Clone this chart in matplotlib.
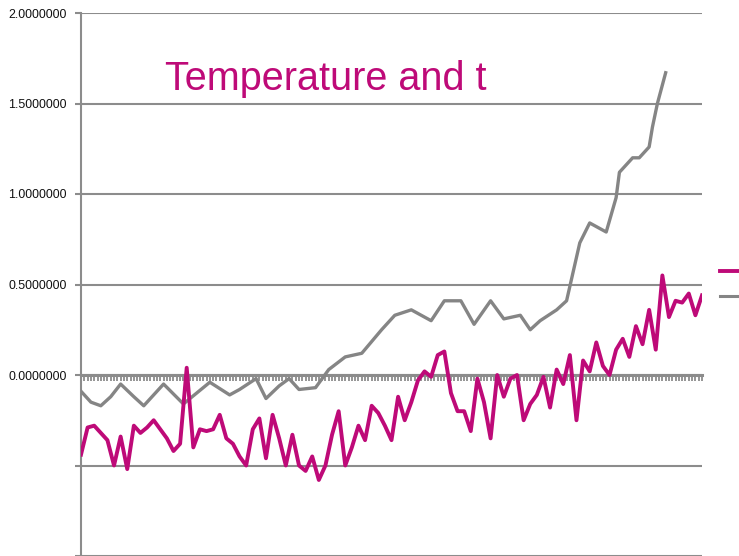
import matplotlib
matplotlib.use("Agg")
import matplotlib.pyplot as plt
from matplotlib.ticker import MultipleLocator, FuncFormatter
from matplotlib.lines import Line2D
from matplotlib.transforms import Bbox

# ---- data ----
temp_years = [1836, 1838, 1840, 1842, 1844, 1846, 1848, 1850, 1852, 1854, 1856, 1858,
              1860, 1862, 1864, 1866, 1868, 1870, 1872, 1874, 1876, 1878, 1880, 1882,
              1884, 1886, 1888, 1890, 1892, 1894, 1896, 1898, 1900, 1902, 1904, 1906,
              1908, 1910, 1912, 1914, 1916, 1918, 1920, 1922, 1924, 1926, 1928, 1930,
              1932, 1934, 1936, 1938, 1940, 1942, 1944, 1946, 1948, 1950, 1952, 1954,
              1956, 1958, 1960, 1962, 1964, 1966, 1968, 1970, 1972, 1974, 1976, 1978,
              1980, 1982, 1984, 1986, 1988, 1990, 1992, 1994, 1996, 1998, 2000, 2002,
              2004, 2006, 2008, 2010, 2012, 2014, 2016, 2018, 2020, 2022, 2024]
temp_values = [-0.44, -0.29, -0.28, -0.32, -0.36, -0.50, -0.34, -0.52, -0.28, -0.32, -0.29, -0.25,
               -0.30, -0.35, -0.42, -0.38, 0.04, -0.40, -0.30, -0.31, -0.30, -0.22, -0.35, -0.38,
               -0.45, -0.50, -0.30, -0.24, -0.46, -0.22, -0.35, -0.50, -0.33, -0.50, -0.53, -0.45,
               -0.58, -0.50, -0.33, -0.20, -0.50, -0.40, -0.28, -0.36, -0.17, -0.21, -0.28, -0.36,
               -0.12, -0.25, -0.15, -0.03, 0.02, -0.01, 0.11, 0.13, -0.10, -0.20, -0.20, -0.31,
               -0.02, -0.15, -0.35, 0.00, -0.12, -0.02, 0.00, -0.25, -0.16, -0.11, -0.01, -0.18,
               0.03, -0.05, 0.11, -0.25, 0.08, 0.02, 0.18, 0.05, 0.00, 0.14, 0.20, 0.10,
               0.27, 0.17, 0.36, 0.14, 0.55, 0.32, 0.41, 0.40, 0.45, 0.33, 0.44]

forcing_years = [1836, 1839, 1842, 1845, 1848, 1852, 1855, 1858, 1861, 1867, 1871, 1875,
                 1881, 1884, 1889, 1892, 1896, 1899, 1902, 1907, 1911, 1916, 1921, 1927,
                 1931, 1936, 1942, 1946, 1951, 1955, 1960, 1964, 1969, 1972, 1975, 1980,
                 1983, 1987, 1990, 1995, 1998, 1999, 2003, 2005, 2008, 2009, 2010.5, 2013]
forcing_values = [-0.09, -0.15, -0.17, -0.12, -0.05, -0.12, -0.17, -0.11, -0.05, -0.16, -0.10, -0.04,
                  -0.11, -0.08, -0.02, -0.13, -0.06, -0.02, -0.08, -0.07, 0.03, 0.10, 0.12, 0.25,
                  0.33, 0.36, 0.30, 0.41, 0.41, 0.28, 0.41, 0.31, 0.33, 0.25, 0.30, 0.36,
                  0.41, 0.73, 0.84, 0.79, 0.98, 1.12, 1.20, 1.20, 1.26, 1.37, 1.50, 1.67]

title_text = "Temperature and t"
y_ticks = [-1.0, -0.5, 0.0, 0.5, 1.0, 1.5, 2.0]

MAGENTA = "#BE0A78"
GRAY = "#858585"

W, H = 739, 556
fig = plt.figure(figsize=(W / 100, H / 100), dpi=100)
ax = fig.add_axes([81 / W, 0.0, (702 - 81) / W, 1 - 13 / H])

ax.plot(forcing_years, forcing_values, color=GRAY, lw=2.4, solid_joinstyle="round", zorder=3)
ax.plot(temp_years, temp_values, color=MAGENTA, lw=2.8, solid_joinstyle="round", zorder=4)

ax.set_xlim(1836, 2024)
ax.set_ylim(-1.0, 2.0)
ax.set_yticks(y_ticks)
ax.yaxis.set_major_formatter(FuncFormatter(lambda v, p: "" if v < 0 else f"{v:.7f}"))
ax.yaxis.grid(True, color="#8C8C8C", lw=1.5)
ax.set_axisbelow(True)

for s in ["top", "right"]:
    ax.spines[s].set_visible(False)
ax.spines["left"].set_color("#8C8C8C")
ax.spines["left"].set_linewidth(1.5)
ax.spines["bottom"].set_position(("data", 0))
ax.spines["bottom"].set_color("#8C8C8C")
ax.spines["bottom"].set_linewidth(2.2)
ax.spines["bottom"].set_zorder(2)

ax.tick_params(axis="y", length=4, width=1.5, color="#8C8C8C", pad=6.5,
               labelsize=8.9, labelcolor="#111111")
ax.xaxis.set_major_locator(MultipleLocator(1))
ax.tick_params(axis="x", which="major", direction="out", length=4, width=1.3,
               color="#8C8C8C", labelbottom=False)

for lab in ax.get_yticklabels():
    lab.set_fontfamily("Liberation Sans")

t = fig.text(165 / W, 1 - 90 / H, title_text, color=MAGENTA, fontsize=28.5,
             fontfamily="Liberation Sans", ha="left", va="baseline")
t.set_clip_box(Bbox.from_extents(0, 0, 490, H))
t.set_clip_on(True)

fig.add_artist(Line2D([720 / W, 1.0], [1 - 271 / H] * 2, color=MAGENTA, lw=2.8,
                      transform=fig.transFigure))
fig.add_artist(Line2D([720 / W, 1.0], [1 - 296 / H] * 2, color=GRAY, lw=2.2,
                      transform=fig.transFigure))

fig.savefig("out.png", dpi=100)
